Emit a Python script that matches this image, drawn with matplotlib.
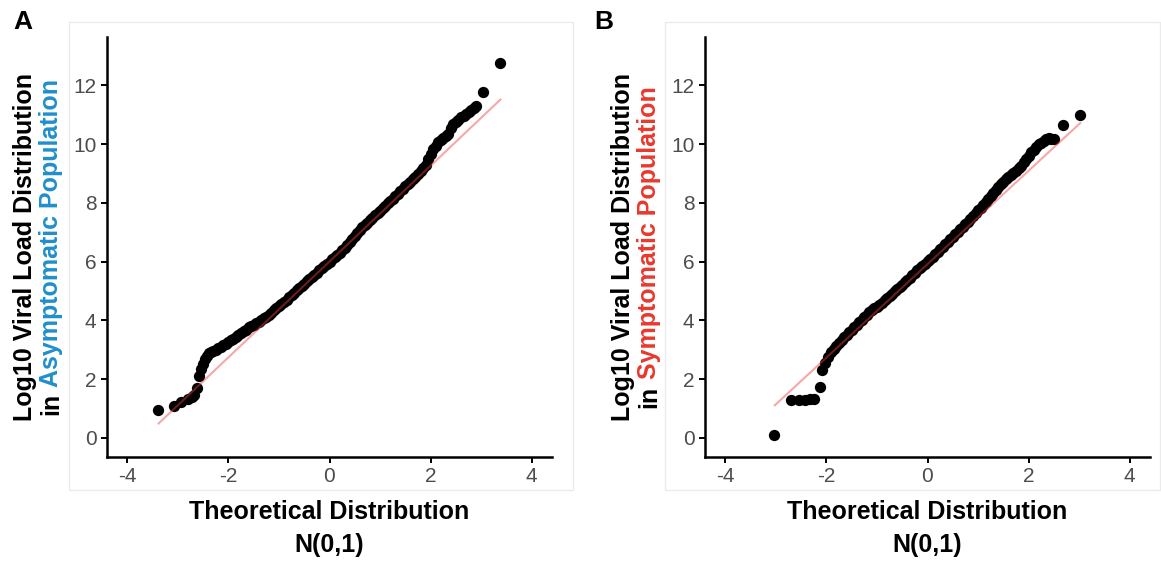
import matplotlib
matplotlib.use("Agg")
import matplotlib.pyplot as plt
from matplotlib.patches import Rectangle

plt.rcParams['font.family'] = ['Liberation Sans', 'DejaVu Sans']
plt.rcParams['axes.unicode_minus'] = False

# --- data (theoretical quantile, sample quantile) ---
asym_x = [-3.39, -3.08, -2.93, -2.80, -2.72, -2.67, -2.63, -2.59, -2.54, -2.50,
          -2.46, -2.42, -2.38,
          -2.35, -2.30, -2.25, -2.20, -2.15, -2.10, -2.05, -2.00, -1.95, -1.90,
          -1.85, -1.80, -1.75, -1.70, -1.65, -1.60, -1.55, -1.50, -1.45, -1.40,
          -1.35, -1.30, -1.25, -1.20, -1.15, -1.10, -1.05, -1.00, -0.95, -0.90,
          -0.85, -0.80, -0.75, -0.70, -0.65, -0.60, -0.55, -0.50, -0.45, -0.40,
          -0.35, -0.30, -0.25, -0.20, -0.15, -0.10, -0.05, 0.00, 0.05, 0.10,
          0.15, 0.20, 0.25, 0.30, 0.35, 0.40, 0.45, 0.50, 0.55, 0.60,
          0.65, 0.70, 0.75, 0.80, 0.85, 0.90, 0.95, 1.00, 1.05, 1.10,
          1.15, 1.20, 1.25, 1.30, 1.35, 1.40, 1.45, 1.50, 1.55, 1.60,
          1.65, 1.70, 1.75, 1.80, 1.85, 1.90, 1.95, 2.00, 2.05, 2.10,
          2.15, 2.20, 2.25, 2.30, 2.35, 2.40, 2.45, 2.50, 2.55, 2.60,
          2.65, 2.70, 2.75, 2.80, 2.85, 2.90, 3.04, 3.37]
asym_y = [0.94, 1.09, 1.23, 1.31, 1.38, 1.45, 1.71, 2.11, 2.35, 2.50,
          2.68, 2.80, 2.88,
          2.93, 2.97, 3.01, 3.06, 3.11, 3.16, 3.21, 3.27, 3.32, 3.37,
          3.44, 3.50, 3.56, 3.63, 3.69, 3.76, 3.81, 3.86, 3.91, 3.96,
          4.02, 4.07, 4.12, 4.19, 4.26, 4.34, 4.41, 4.48, 4.55, 4.63,
          4.71, 4.79, 4.86, 4.94, 5.02, 5.09, 5.17, 5.25, 5.33, 5.40,
          5.48, 5.56, 5.63, 5.71, 5.78, 5.85, 5.93, 6.00, 6.08, 6.15,
          6.23, 6.30, 6.39, 6.48, 6.58, 6.68, 6.78, 6.88, 6.97, 7.07,
          7.17, 7.25, 7.33, 7.41, 7.49, 7.58, 7.66, 7.74, 7.82, 7.91,
          7.99, 8.07, 8.15, 8.24, 8.32, 8.40, 8.48, 8.56, 8.65, 8.73,
          8.81, 8.90, 9.00, 9.09, 9.19, 9.28, 9.48, 9.68, 9.82, 9.95,
          10.07, 10.14, 10.21, 10.28, 10.36, 10.55, 10.68, 10.75, 10.83, 10.91,
          10.97, 11.03, 11.10, 11.16, 11.22, 11.29, 11.77, 12.77]
asym_line_x = [-3.38, 3.38]
asym_line_y = [0.49, 11.52]

sym_x = [-3.03, -2.70, -2.55, -2.43, -2.33, -2.24, -2.13, -2.08, -2.02, -1.96,
         -1.90, -1.85, -1.80, -1.75, -1.70, -1.65, -1.60, -1.55, -1.50, -1.45,
         -1.40, -1.35, -1.30, -1.25, -1.20, -1.15, -1.10, -1.05, -1.00, -0.95,
         -0.90, -0.85, -0.80, -0.75, -0.70, -0.65, -0.60, -0.55, -0.50, -0.45,
         -0.40, -0.35, -0.30, -0.25, -0.20, -0.15, -0.10, -0.05, 0.00, 0.05,
         0.10, 0.15, 0.20, 0.25, 0.30, 0.35, 0.40, 0.45, 0.50, 0.55,
         0.60, 0.65, 0.70, 0.75, 0.80, 0.85, 0.90, 0.95, 1.00, 1.05,
         1.10, 1.15, 1.20, 1.25, 1.30, 1.35, 1.40, 1.45, 1.50, 1.55,
         1.60, 1.65, 1.70, 1.75, 1.80, 1.85, 1.90, 1.95, 2.00, 2.05,
         2.10, 2.15, 2.20, 2.25, 2.30, 2.35, 2.40, 2.45, 2.50, 2.67, 3.02]
sym_y = [0.10, 1.30, 1.30, 1.30, 1.31, 1.33, 1.75, 2.32, 2.56, 2.76,
         2.94, 3.04, 3.14, 3.24, 3.33, 3.42, 3.50, 3.59, 3.67, 3.76,
         3.85, 3.93, 4.02, 4.11, 4.19, 4.27, 4.34, 4.41, 4.47, 4.54,
         4.60, 4.68, 4.76, 4.84, 4.91, 4.99, 5.06, 5.14, 5.22, 5.30,
         5.38, 5.46, 5.54, 5.62, 5.70, 5.78, 5.86, 5.93, 6.01, 6.09,
         6.16, 6.25, 6.33, 6.42, 6.51, 6.59, 6.68, 6.76, 6.84, 6.93,
         7.01, 7.10, 7.18, 7.27, 7.36, 7.45, 7.55, 7.65, 7.75, 7.84,
         7.94, 8.04, 8.14, 8.24, 8.33, 8.43, 8.53, 8.63, 8.73, 8.80,
         8.88, 8.95, 9.03, 9.10, 9.18, 9.27, 9.39, 9.50, 9.61, 9.72,
         9.81, 9.90, 9.99, 10.05, 10.12, 10.18, 10.20, 10.19, 10.18, 10.67, 10.99]
sym_line_x = [-3.02, 3.02]
sym_line_y = [1.11, 10.72]

xticks = [-4, -2, 0, 2, 4]
yticks = [0, 2, 4, 6, 8, 10, 12]

W, H = 1161, 561
fig = plt.figure(figsize=(W / 100, H / 100), dpi=100)


def px(x0, y0, x1, y1):
    # pixel box (top-left origin) -> figure fraction rect
    return [x0 / W, 1 - y1 / H, (x1 - x0) / W, (y1 - y0) / H]


def qq_panel(rect, xs, ys, lx, ly):
    ax = fig.add_axes(rect)
    ax.scatter(xs, ys, s=66, color='black', linewidths=0, zorder=2)
    ax.plot(lx, ly, color='#F03C3C', alpha=0.45, lw=1.5, zorder=3)
    ax.set_xlim(-4.4, 4.4)
    ax.set_ylim(-0.65, 13.65)
    ax.set_xticks(xticks)
    ax.set_yticks(yticks)
    for s in ['top', 'right']:
        ax.spines[s].set_visible(False)
    for s in ['left', 'bottom']:
        ax.spines[s].set_linewidth(1.8)
    ax.tick_params(length=4.5, width=1.4, labelsize=15, labelcolor='#4D4D4D', pad=3)
    return ax


# light panel borders
for bx in [(69, 22, 573, 490), (665, 22, 1160, 490)]:
    r = px(*bx)
    fig.patches.append(Rectangle((r[0], r[1]), r[2], r[3], transform=fig.transFigure,
                                 fill=False, edgecolor='#EBEBEB', lw=1))

axA = qq_panel(px(107, 37, 552, 457), asym_x, asym_y, asym_line_x, asym_line_y)
axB = qq_panel(px(705, 37, 1150, 457), sym_x, sym_y, sym_line_x, sym_line_y)

tkw = dict(fontsize=18, fontweight='bold')
renderer = fig.canvas.get_renderer()


def ylabel(x1, x2, word, color):
    yc = 1 - 247 / H
    fig.text(x1 / W, yc, 'Log10 Viral Load Distribution', rotation=90,
             ha='center', va='center', **tkw)
    full = fig.text(x2 / W, yc, 'in ' + word, rotation=90, ha='center', va='center', **tkw)
    bb = full.get_window_extent(renderer)
    full.remove()
    fig.text(x2 / W, bb.y0 / fig.bbox.height, 'in', rotation=90,
             ha='center', va='bottom', **tkw)
    fig.text(x2 / W, bb.y1 / fig.bbox.height, word, rotation=90,
             ha='center', va='top', color=color, **tkw)


def xlabel(xc):
    fig.text(xc / W, 1 - 512 / H, 'Theoretical Distribution', ha='center', va='center', **tkw)
    fig.text(xc / W, 1 - 545 / H, 'N(0,1)', ha='center', va='center', **tkw)


ylabel(25, 51, 'Asymptomatic Population', '#1F8FCC')
ylabel(623, 649, 'Symptomatic Population', '#E8392E')
xlabel(329.5)
xlabel(927.5)

fig.text(23 / W, 1 - 22 / H, 'A', ha='center', va='center', fontsize=19, fontweight='bold')
fig.text(604 / W, 1 - 22 / H, 'B', ha='center', va='center', fontsize=19, fontweight='bold')

fig.savefig('out.png', dpi=100)
